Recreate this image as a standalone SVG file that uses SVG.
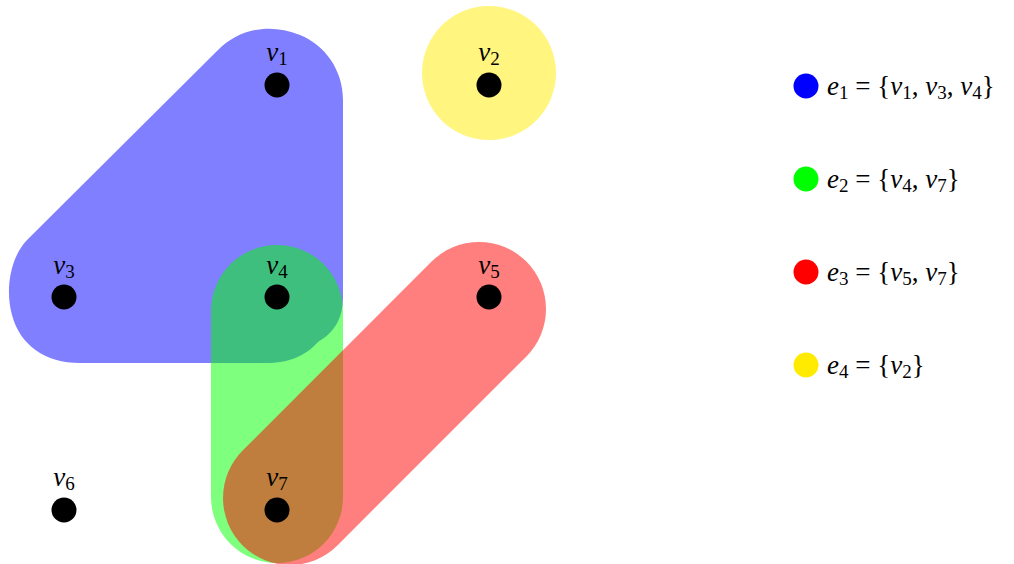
<svg xmlns="http://www.w3.org/2000/svg" width="1014" height="564" viewBox="0 0 1014 564">
<style>
text{font-family:"Liberation Serif","DejaVu Serif",serif;font-size:27px;fill:#000}
.i{font-style:italic}
.s{font-size:19px}
.dot{fill:#000}
.lbl{text-anchor:middle}
</style>
<rect width="1014" height="564" fill="#fff"/>
<g id="hyperedges">
  <g id="e1" opacity="0.5">
    <path fill="#0000ff" d="M 27,240 L 218,50 C 238,30 268,22 300,35 C 325,45 343,70 343,100 L 343,297 C 343,318 335,332 318,342 C 305,356 290,363 265,363 L 80,363 C 45,363 20,345 12,315 C 5,290 10,258 27,240 Z"/>
  </g>
  <g id="e2" opacity="0.5">
    <line x1="277" y1="311" x2="277" y2="497" stroke="#00ff00" stroke-width="132" stroke-linecap="round"/>
  </g>
  <g id="e3" opacity="0.5">
    <line x1="479" y1="309" x2="290" y2="498" stroke="#ff0000" stroke-width="134" stroke-linecap="round"/>
  </g>
  <g id="e4" opacity="0.5">
    <circle cx="489" cy="73" r="67" fill="#ffeb00"/>
  </g>
</g>
<g id="v1"><circle class="dot" cx="277" cy="85" r="12.5"/><text class="lbl" x="277" y="61"><tspan class="i">v</tspan><tspan class="s" dy="4">1</tspan></text></g>
<g id="v2"><circle class="dot" cx="489" cy="85" r="12.5"/><text class="lbl" x="489" y="61"><tspan class="i">v</tspan><tspan class="s" dy="4">2</tspan></text></g>
<g id="v3"><circle class="dot" cx="64" cy="297" r="12.5"/><text class="lbl" x="64" y="274"><tspan class="i">v</tspan><tspan class="s" dy="4">3</tspan></text></g>
<g id="v4"><circle class="dot" cx="277" cy="297" r="12.5"/><text class="lbl" x="277" y="274"><tspan class="i">v</tspan><tspan class="s" dy="4">4</tspan></text></g>
<g id="v5"><circle class="dot" cx="489" cy="297" r="12.5"/><text class="lbl" x="489" y="274"><tspan class="i">v</tspan><tspan class="s" dy="4">5</tspan></text></g>
<g id="v6"><circle class="dot" cx="64" cy="510" r="12.5"/><text class="lbl" x="64" y="486"><tspan class="i">v</tspan><tspan class="s" dy="4">6</tspan></text></g>
<g id="v7"><circle class="dot" cx="277" cy="510" r="12.5"/><text class="lbl" x="277" y="486"><tspan class="i">v</tspan><tspan class="s" dy="4">7</tspan></text></g>
<g id="legend">
  <g id="leg-e1"><circle cx="806" cy="86" r="12.5" fill="#0000ff"/>
    <text x="827" y="95"><tspan class="i">e</tspan><tspan class="s" dy="4">1</tspan><tspan dy="-4"> = {</tspan><tspan class="i">v</tspan><tspan class="s" dy="4">1</tspan><tspan dy="-4">, </tspan><tspan class="i">v</tspan><tspan class="s" dy="4">3</tspan><tspan dy="-4">, </tspan><tspan class="i">v</tspan><tspan class="s" dy="4">4</tspan><tspan dy="-4">}</tspan></text></g>
  <g id="leg-e2"><circle cx="806" cy="179" r="12.5" fill="#00ff00"/>
    <text x="827" y="188"><tspan class="i">e</tspan><tspan class="s" dy="4">2</tspan><tspan dy="-4"> = {</tspan><tspan class="i">v</tspan><tspan class="s" dy="4">4</tspan><tspan dy="-4">, </tspan><tspan class="i">v</tspan><tspan class="s" dy="4">7</tspan><tspan dy="-4">}</tspan></text></g>
  <g id="leg-e3"><circle cx="806" cy="272" r="12.5" fill="#ff0000"/>
    <text x="827" y="281"><tspan class="i">e</tspan><tspan class="s" dy="4">3</tspan><tspan dy="-4"> = {</tspan><tspan class="i">v</tspan><tspan class="s" dy="4">5</tspan><tspan dy="-4">, </tspan><tspan class="i">v</tspan><tspan class="s" dy="4">7</tspan><tspan dy="-4">}</tspan></text></g>
  <g id="leg-e4"><circle cx="806" cy="365" r="12.5" fill="#ffeb00"/>
    <text x="827" y="374"><tspan class="i">e</tspan><tspan class="s" dy="4">4</tspan><tspan dy="-4"> = {</tspan><tspan class="i">v</tspan><tspan class="s" dy="4">2</tspan><tspan dy="-4">}</tspan></text></g>
</g>
</svg>
